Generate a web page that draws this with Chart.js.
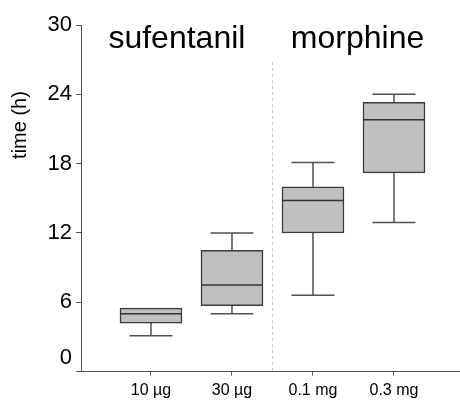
<!DOCTYPE html>
<html>
<head>
<meta charset="utf-8">
<script src="https://cdn.jsdelivr.net/npm/chart.js@4.4.1/dist/chart.umd.min.js"></script>
<style>
  html, body { margin: 0; padding: 0; background: #fff; }
  #wrap { width: 460px; height: 402px; }
</style>
</head>
<body>
<div id="wrap"><canvas id="box" width="460" height="402"></canvas></div>
<script>
// ---- data ----
const doses       = ['10 µg', '30 µg', '0.1 mg', '0.3 mg'];
const positions   = [1, 2, 3, 4];
const whiskerLow  = [3.1, 5.0, 6.6, 12.9];
const q1          = [4.2, 5.7, 12.0, 17.2];
const median      = [5.0, 7.5, 14.8, 21.8];
const q3          = [5.5, 10.5, 16.0, 23.3];
const whiskerHigh = [5.5, 12.0, 18.1, 24.0];
const yTicks      = [0, 6, 12, 18, 24, 30];
const groups      = ['sufentanil', 'morphine'];
const groupCenter = [1.32, 3.55];
const divider     = 2.5;

const FONT = '"Liberation Sans", Arial, sans-serif';
Chart.defaults.font.family = FONT;
Chart.defaults.color = '#000';

// whiskers, caps, medians, divider and group titles
const boxExtras = {
  id: 'boxExtras',
  beforeDatasetsDraw(chart) {
    const { ctx, scales: { x, y }, chartArea } = chart;
    const dx = x.getPixelForValue(divider);
    ctx.save();
    ctx.strokeStyle = '#c8c8c8';
    ctx.lineWidth = 1;
    ctx.setLineDash([3, 3]);
    ctx.beginPath();
    ctx.moveTo(dx, 62);
    ctx.lineTo(dx, chartArea.bottom);
    ctx.stroke();
    ctx.setLineDash([]);

    // whiskers
    ctx.strokeStyle = '#505050';
    ctx.lineWidth = 1.5;
    positions.forEach((p, i) => {
      const px = x.getPixelForValue(p);
      const cap = 21.5;
      [[q1[i], whiskerLow[i]], [q3[i], whiskerHigh[i]]].forEach(([from, to]) => {
        if (from === to) return;
        const y0 = y.getPixelForValue(from), y1 = y.getPixelForValue(to);
        ctx.beginPath();
        ctx.moveTo(px, y0); ctx.lineTo(px, y1);
        ctx.moveTo(px - cap, y1); ctx.lineTo(px + cap, y1);
        ctx.stroke();
      });
    });
    ctx.restore();
  },
  afterDatasetsDraw(chart) {
    const { ctx, scales: { x, y } } = chart;
    ctx.save();
    ctx.strokeStyle = '#333';
    ctx.lineWidth = 1.5;
    positions.forEach((p, i) => {
      const px = x.getPixelForValue(p);
      const my = y.getPixelForValue(median[i]);
      ctx.beginPath();
      ctx.moveTo(px - 31, my); ctx.lineTo(px + 31, my);
      ctx.stroke();
    });

    // group titles
    ctx.fillStyle = '#000';
    ctx.font = '32px ' + FONT;
    ctx.textAlign = 'center';
    ctx.textBaseline = 'alphabetic';
    groups.forEach((g, i) => ctx.fillText(g, x.getPixelForValue(groupCenter[i]), 48));

    // y axis title
    ctx.font = '20px ' + FONT;
    ctx.translate(20, 125);
    ctx.rotate(-Math.PI / 2);
    ctx.textBaseline = 'middle';
    ctx.fillText('time (h)', 0, 0);
    ctx.restore();
  }
};

new Chart(document.getElementById('box'), {
  type: 'bar',
  data: {
    datasets: [{
      data: positions.map((p, i) => ({ x: p, y: [q1[i], q3[i]] })),
      backgroundColor: '#c0c0c0',
      borderColor: '#3a3a3a',
      borderWidth: 1.5,
      borderSkipped: false,
      barThickness: 62
    }]
  },
  options: {
    responsive: false,
    animation: false,
    devicePixelRatio: 1,
    layout: { padding: { top: 25, right: 0, left: 0, bottom: 0 } },
    plugins: { legend: { display: false }, tooltip: { enabled: false } },
    scales: {
      x: {
        type: 'linear',
        offset: false,
        min: 0.136,
        max: 4.815,
        afterBuildTicks: s => { s.ticks = positions.map(v => ({ value: v })); },
        afterFit: s => { s.height = 28; },
        ticks: {
          font: { size: 16 },
          padding: 5,
          callback: v => doses[positions.indexOf(v)]
        },
        grid: { offset: false, drawOnChartArea: false, drawTicks: true, tickLength: 4, color: '#555' },
        border: { display: true, color: '#555', width: 1 }
      },
      y: {
        min: 0,
        max: 30,
        afterBuildTicks: s => { s.ticks = yTicks.map(v => ({ value: v })); },
        afterFit: s => { s.width = 81; },
        ticks: {
          font: { size: 22 },
          padding: 4,
          callback: v => v === 0 ? ['0', ''] : String(v)
        },
        grid: { drawOnChartArea: false, drawTicks: true, tickLength: 5, color: '#555' },
        border: { display: true, color: '#555', width: 1 }
      }
    }
  },
  plugins: [boxExtras]
});
</script>
</body>
</html>
